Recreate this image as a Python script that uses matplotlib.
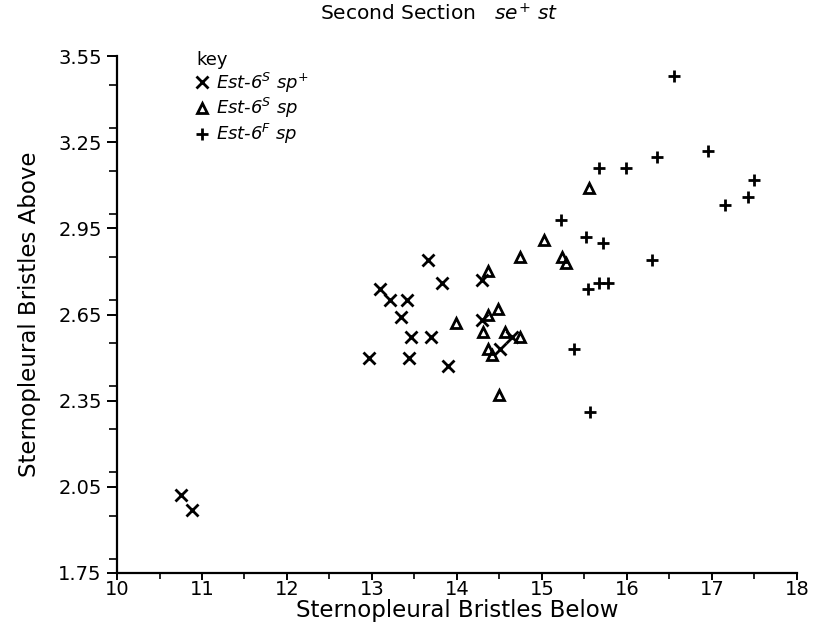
import numpy as np
import matplotlib
matplotlib.use("Agg")
import matplotlib.pyplot as plt
from matplotlib.ticker import MultipleLocator, FixedLocator

# Est-6^S sp^+  (x markers)
cross_x = [10.75, 10.88, 12.96, 13.09, 13.21, 13.41, 13.34, 13.46, 13.44,
           13.70, 13.66, 13.82, 13.90, 14.29, 14.29, 14.51, 14.65]
cross_y = [2.02, 1.97, 2.50, 2.74, 2.70, 2.70, 2.64, 2.57, 2.50,
           2.57, 2.84, 2.76, 2.47, 2.77, 2.63, 2.53, 2.57]

# Est-6^S sp  (triangles)
tri_x = [14.74, 14.36, 13.99, 14.37, 14.48, 14.31, 14.57, 14.74, 14.37,
         14.41, 14.49, 15.55, 15.02, 15.24, 15.28]
tri_y = [2.85, 2.80, 2.62, 2.65, 2.67, 2.59, 2.59, 2.57, 2.53,
         2.51, 2.37, 3.09, 2.91, 2.85, 2.83]

# Est-6^F sp  (plus)
plus_x = [16.56, 16.96, 16.35, 15.67, 15.99, 17.50, 17.43, 17.16, 15.23,
          15.52, 15.72, 16.29, 15.54, 15.67, 15.78, 15.38, 15.57]
plus_y = [3.48, 3.22, 3.20, 3.16, 3.16, 3.12, 3.06, 3.03, 2.98,
          2.92, 2.90, 2.84, 2.74, 2.76, 2.76, 2.53, 2.31]

labels = ['Est-6$^{S}$ sp$^{+}$',
          'Est-6$^{S}$ sp',
          'Est-6$^{F}$ sp']

y_ticks = [1.75, 2.05, 2.35, 2.65, 2.95, 3.25, 3.55]

plt.rcParams['mathtext.fontset'] = 'dejavusans'

fig = plt.figure(figsize=(8.19, 6.37), dpi=100)
ax = fig.add_axes([0.1429, 0.1005, 0.830, 0.8115])

ax.plot(cross_x, cross_y, linestyle='', marker='x', ms=8, mew=2, color='black', label=labels[0])
ax.plot(tri_x, tri_y, linestyle='', marker='^', ms=7, mew=2, mfc='none', color='black', label=labels[1])
ax.plot(plus_x, plus_y, linestyle='', marker='+', ms=9, mew=2, color='black', label=labels[2])

ax.set_xlim(10, 18)
ax.set_ylim(1.75, 3.55)
ax.xaxis.set_major_locator(MultipleLocator(1))
ax.xaxis.set_minor_locator(MultipleLocator(0.5))
ax.yaxis.set_major_locator(FixedLocator(y_ticks))
ax.yaxis.set_minor_locator(MultipleLocator(0.15))
ax.set_yticklabels(['%.2f' % v for v in y_ticks])

for side in ['top', 'right']:
    ax.spines[side].set_visible(False)
for side in ['left', 'bottom']:
    ax.spines[side].set_linewidth(1.6)

ax.tick_params(axis='both', which='major', direction='out', width=1.4, labelsize=14)
ax.tick_params(axis='y', which='major', length=7, pad=4)
ax.tick_params(axis='x', which='major', length=5, pad=0)
ax.tick_params(axis='y', which='minor', direction='out', length=6, width=1.2)
ax.tick_params(axis='x', which='minor', direction='out', length=4, width=1.2)

ax.set_xlabel('Sternopleural Bristles Below', fontsize=16.5, labelpad=0)
ax.set_ylabel('Sternopleural Bristles Above', fontsize=16.5, labelpad=12)

fig.text(0.536, 0.978, r'Second Section   $\mathit{se}^{+}\ \mathit{st}$',
         ha='center', va='center', fontsize=14.5)

leg = ax.legend(title='key', loc='upper left', bbox_to_anchor=(0.098, 1.035),
                frameon=False, alignment='left', handlelength=0.6,
                handletextpad=0.5, labelspacing=0.1, borderpad=0.2,
                prop={'size': 13, 'style': 'italic'}, title_fontsize=13)

fig.savefig('out.png', dpi=100)
